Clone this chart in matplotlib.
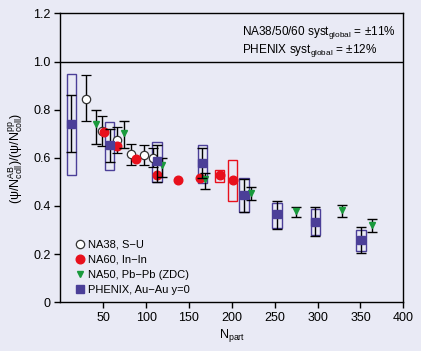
import numpy as np
import matplotlib
matplotlib.use('Agg')
import matplotlib.pyplot as plt
from matplotlib.lines import Line2D
from matplotlib.patches import Rectangle

# region data
na38_x = [30.0, 48.2, 65.7, 82.4, 97.2, 107.7]
na38_y = [0.844, 0.713, 0.674, 0.617, 0.610, 0.601]
na38_lo = [0.752, 0.650, 0.621, 0.569, 0.569, 0.563]
na38_hi = [0.943, 0.775, 0.729, 0.659, 0.653, 0.642]

na60_x = [51.3, 65.7, 87.9, 112.7, 137.2, 162.9, 185.8, 201.0]
na60_y = [0.707, 0.649, 0.594, 0.530, 0.509, 0.515, 0.527, 0.508]
na60_box_x = [185.8, 201.0]
na60_box_lo = [0.501, 0.420]
na60_box_hi = [0.550, 0.590]

na50_x = [42.0, 74.2, 119.0, 168.7, 222.0, 274.8, 328.9, 363.5]
na50_y = [0.739, 0.702, 0.569, 0.511, 0.454, 0.378, 0.382, 0.321]
na50_lo = [0.656, 0.641, 0.522, 0.469, 0.424, 0.353, 0.353, 0.292]
na50_hi = [0.800, 0.752, 0.600, 0.538, 0.478, 0.394, 0.403, 0.345]

phx_x = [13.0, 57.5, 112.7, 165.6, 214.2, 252.7, 297.4, 350.6]
phx_y = [0.739, 0.653, 0.588, 0.577, 0.444, 0.365, 0.335, 0.257]
phx_lo = [0.623, 0.583, 0.501, 0.515, 0.376, 0.303, 0.275, 0.203]
phx_hi = [0.861, 0.718, 0.653, 0.639, 0.511, 0.422, 0.394, 0.311]
phx_syst_lo = [0.527, 0.548, 0.498, 0.494, 0.374, 0.310, 0.281, 0.214]
phx_syst_hi = [0.947, 0.747, 0.664, 0.652, 0.515, 0.411, 0.386, 0.300]

labels = ['NA38, S\u2212U', 'NA60, In\u2212In', 'NA50, Pb\u2212Pb (ZDC)', 'PHENIX, Au\u2212Au y=0']
xticks = [50, 100, 150, 200, 250, 300, 350, 400]
yticks = [0, 0.2, 0.4, 0.6, 0.8, 1.0, 1.2]
yticklabels = ['0', '0.2', '0.4', '0.6', '0.8', '1.0', '1.2']
# endregion

bg = '#e9eaf5'
red = '#e8101c'
green = '#1a9a3c'
blue = '#4b3f98'
box_w = 11

plt.rcParams['font.family'] = ['Liberation Sans', 'DejaVu Sans']
plt.rcParams['mathtext.default'] = 'regular'
plt.rcParams['font.size'] = 8.5

fig = plt.figure(figsize=(4.21, 3.51), dpi=100, facecolor=bg)
ax = fig.add_axes([0.1433, 0.1387, 0.8147, 0.8233], facecolor=bg)

def asym(y, lo, hi):
    y = np.array(y)
    return [y - np.array(lo), np.array(hi) - y]

# systematic boxes
for x, lo, hi in zip(phx_x, phx_syst_lo, phx_syst_hi):
    ax.add_patch(Rectangle((x - box_w / 2, lo), box_w, hi - lo, fill=False,
                           edgecolor=blue, lw=1.0, zorder=2))
for x, lo, hi in zip(na60_box_x, na60_box_lo, na60_box_hi):
    ax.add_patch(Rectangle((x - box_w / 2, lo), box_w, hi - lo, fill=False,
                           edgecolor=red, lw=1.0, zorder=2))

ekw = dict(ecolor='black', elinewidth=1.0, capsize=3.5, capthick=1.0, ls='none')
ax.errorbar(na38_x, na38_y, yerr=asym(na38_y, na38_lo, na38_hi), marker='o', ms=6,
            mfc='white', mec='#333333', mew=0.9, zorder=3, **ekw)
ax.plot(na60_x, na60_y, 'o', ms=6.2, color=red, ls='none', zorder=4)
ax.errorbar(na50_x, na50_y, yerr=asym(na50_y, na50_lo, na50_hi), marker='v', ms=4.6,
            mfc=green, mec=green, zorder=4, **ekw)
ax.errorbar(phx_x, phx_y, yerr=asym(phx_y, phx_lo, phx_hi), marker='s', ms=5.5,
            mfc=blue, mec=blue, zorder=5, **ekw)

ax.axhline(1.0, color='black', lw=1.0, zorder=1)

ax.set_xlim(0, 400)
ax.set_ylim(0, 1.2)
ax.set_xticks(xticks)
ax.set_yticks(yticks)
ax.set_yticklabels(yticklabels)
ax.tick_params(direction='out', length=4, width=1.0, labelsize=9, pad=3)
for s in ax.spines.values():
    s.set_linewidth(1.0)

ax.set_xlabel('$N_{part}$', fontsize=9, labelpad=2)
ax.set_ylabel('$(\u03c8/N_{coll}^{AB})/(\u03c8/N_{coll}^{pp})$', fontsize=9, labelpad=5)

ax.text(0.53, 0.925, 'NA38/50/60 syst$_{global}$ = \u00b111%', transform=ax.transAxes,
        fontsize=8.5, va='baseline')
ax.text(0.53, 0.862, 'PHENIX syst$_{global}$ = \u00b112%', transform=ax.transAxes,
        fontsize=8.5, va='baseline')

handles = [
    Line2D([], [], marker='o', ls='none', ms=6, mfc='white', mec='#333333', mew=0.9),
    Line2D([], [], marker='o', ls='none', ms=6.2, color=red),
    Line2D([], [], marker='v', ls='none', ms=4.6, color=green),
    Line2D([], [], marker='s', ls='none', ms=5.5, color=blue),
]
ax.legend(handles, labels, loc='lower left', bbox_to_anchor=(0.025, 0.01), frameon=False,
          handletextpad=0.15, labelspacing=0.45, handlelength=1.2, fontsize=8,
          borderaxespad=0)

fig.savefig('out.png', dpi=100, facecolor=bg)
